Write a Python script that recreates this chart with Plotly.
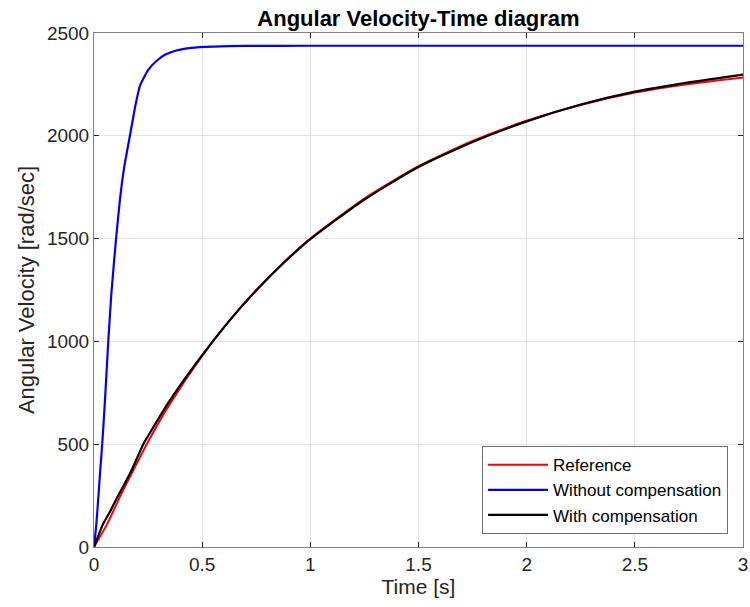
import plotly.graph_objects as go

# Reference (red)
t_ref = [0, 0.06, 0.125, 0.19, 0.25, 0.35, 0.5, 0.625, 0.75, 0.875, 1.0, 1.25, 1.5, 1.75, 2.0, 2.25, 2.5, 2.75, 3.0]
w_ref = [0, 110, 255, 390, 512, 695, 930, 1100, 1250, 1382, 1500, 1695, 1852, 1975, 2073, 2150, 2210, 2252, 2284]

# Without compensation (blue)
t_nc = [0, 0.01, 0.02, 0.03, 0.038, 0.05, 0.066, 0.08, 0.102, 0.12, 0.14, 0.166, 0.19, 0.213, 0.25, 0.29, 0.33, 0.38, 0.45, 0.55, 0.7, 1.0, 2.0, 3.0]
w_nc = [0, 100, 240, 390, 500, 700, 1000, 1230, 1500, 1690, 1850, 2000, 2140, 2245, 2320, 2365, 2395, 2415, 2428, 2434, 2437, 2438, 2438, 2438]

# With compensation (black)
t_wc = [0, 0.02, 0.043, 0.074, 0.112, 0.17, 0.228, 0.25, 0.35, 0.5, 0.625, 0.75, 0.875, 1.0, 1.25, 1.5, 1.75, 2.0, 2.25, 2.5, 2.75, 3.0]
w_wc = [0, 55, 114, 172, 250, 365, 500, 540, 712, 933, 1100, 1248, 1380, 1497, 1690, 1848, 1970, 2070, 2152, 2215, 2260, 2298]

x_ticks = [0, 0.5, 1, 1.5, 2, 2.5, 3]
x_tick_text = ["0", "0.5", "1", "1.5", "2", "2.5", "3"]
y_ticks = [0, 500, 1000, 1500, 2000, 2500]

FONT = "Liberation Sans, Arial, Helvetica, sans-serif"
TXT = "#262626"

fig = go.Figure()
fig.add_trace(go.Scatter(x=t_ref, y=w_ref, mode="lines", name="Reference",
                         line=dict(color="#ff0000", width=2, shape="spline", smoothing=0.6)))
fig.add_trace(go.Scatter(x=t_nc, y=w_nc, mode="lines", name="Without compensation",
                         line=dict(color="#0000ff", width=2.2, shape="spline", smoothing=0.4)))
fig.add_trace(go.Scatter(x=t_wc, y=w_wc, mode="lines", name="With compensation",
                         line=dict(color="#000000", width=2.2, shape="spline", smoothing=0.6)))

axis_common = dict(
    showline=True, linecolor="#808080", linewidth=1, mirror="ticks",
    ticks="inside", ticklen=5, tickcolor="#262626", tickwidth=1,
    showgrid=True, gridcolor="#e3e3e3", gridwidth=1,
    zeroline=False, automargin=False, ticklabeloverflow="allow",
    tickfont=dict(family=FONT, size=19, color=TXT),
)

fig.update_layout(
    width=750, height=607,
    margin=dict(l=94, r=7, t=33, b=60, autoexpand=False),
    paper_bgcolor="white", plot_bgcolor="white",
    title=dict(text="<b>Angular Velocity-Time diagram</b>", x=0.5, xref="paper", xanchor="center",
               y=1 - 18 / 607, yref="container", yanchor="middle",
               font=dict(family=FONT, size=22, color="#000000")),
    xaxis=dict(range=[0, 3], tickvals=x_ticks, ticktext=x_tick_text,
               title=dict(text="Time [s]", font=dict(family=FONT, size=21, color=TXT), standoff=4),
               **axis_common),
    yaxis=dict(range=[0, 2500], tickvals=y_ticks,
               title=dict(text="Angular Velocity [rad/sec]", font=dict(family=FONT, size=22, color=TXT), standoff=6),
               **axis_common),
    legend=dict(x=0.977, y=0.025, xanchor="right", yanchor="bottom",
                bgcolor="white", bordercolor="#6e6e6e", borderwidth=1,
                font=dict(family=FONT, size=17, color="#000000"),
                itemwidth=60, tracegroupgap=0),
    showlegend=True,
)

fig.write_html("out.html", config={"displayModeBar": False},
               post_script="document.body.style.margin='0';document.body.style.padding='0';")
